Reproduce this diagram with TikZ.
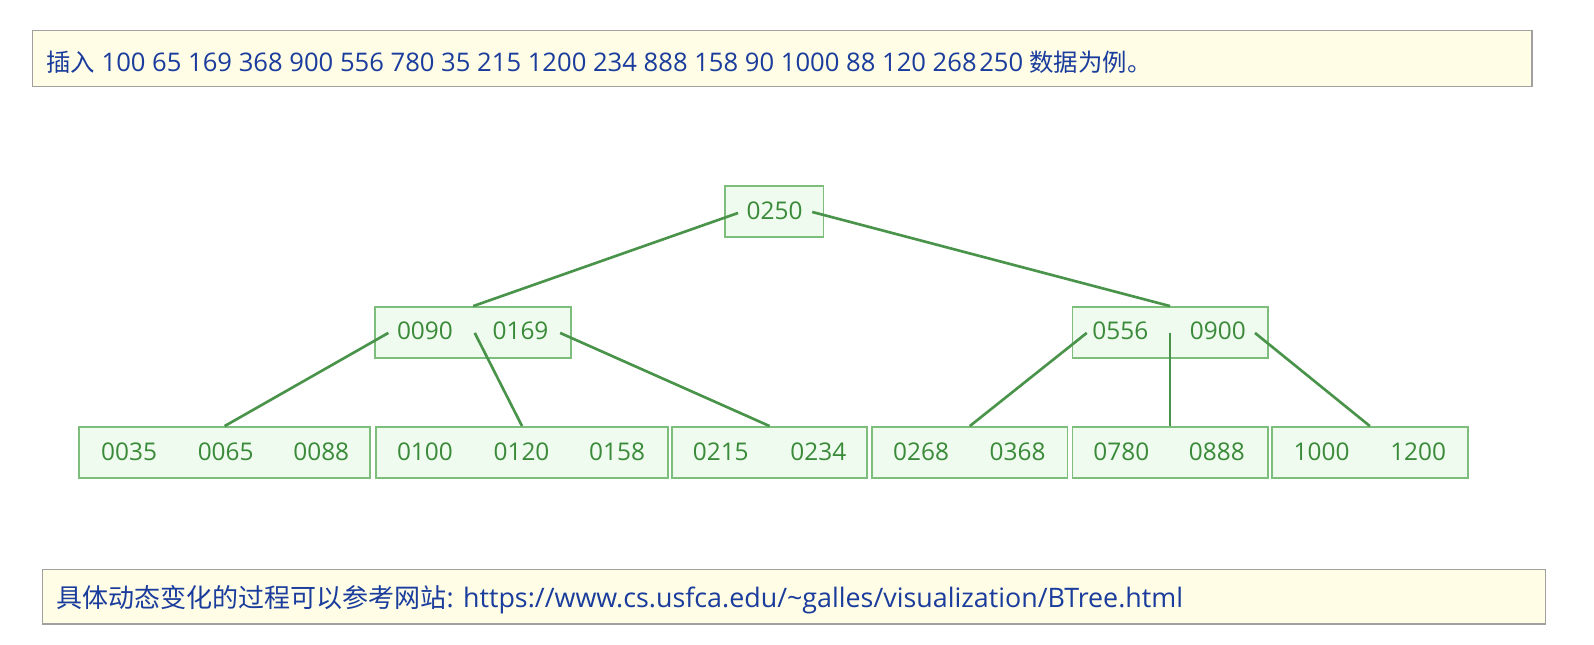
\documentclass[tikz,border=0pt]{standalone}
\usepackage{fontspec}
\setmainfont{Open Sans}
\newfontfamily\cjk{Noto Sans CJK SC}
\newcommand{\hanzi}[2]{{\cjk\fontsize{#1}{#1}\selectfont #2}}
\definecolor{notebg}{HTML}{FFFDE6}
\definecolor{noteline}{HTML}{A0A0A0}
\definecolor{noteblue}{HTML}{1A3C9C}
\definecolor{nodefill}{HTML}{EEFBEE}
\definecolor{nodeline}{HTML}{7DBE7D}
\definecolor{keygreen}{HTML}{3A8A3A}
\definecolor{linkgreen}{HTML}{4A934A}
\tikzstyle{note}=[draw=noteline,fill=notebg,line width=0.7pt]
\tikzstyle{notetext}=[anchor=west,inner sep=0pt,text=noteblue]
\tikzstyle{bnode}=[draw=nodeline,fill=nodefill,line width=0.9pt,minimum height=25pt,inner sep=0pt]
\tikzstyle{key}=[text=keygreen,inner sep=0pt,font=\fontsize{12}{14}\selectfont]
\tikzstyle{link} = [draw,line width=1.3pt,linkgreen]

\begin{document}
\begin{tikzpicture}[x=0.5pt,y=-0.5pt]
    \useasboundingbox (0,0) rectangle (1568,633.5);
    % remarques
    \node[note,minimum width=737.5pt,minimum height=27.5pt] (top) at (769.5,57.5) {};
    \node[notetext,font=\fontsize{12.6}{15}\selectfont] (toptext) at (45,61) {\hanzi{12}{插入} 100 65 169 368 900 556 780 35 215 1200 234 888 158 90 1000 88 120 268\hspace{0.1em}250 \hanzi{12}{数据为例。}};
    \node[note,minimum width=739pt,minimum height=27pt] (bottom) at (781,587) {};
    \node[notetext,font=\fontsize{13.2}{16}\selectfont] (bottomtext) at (55,590) {\hanzi{12.8}{具体动态变化的过程可以参考网站}: https://www.cs.usfca.edu/\textasciitilde galles/visualization/BTree.html};
    % noeuds
    \node[bnode,minimum width=48.5pt] (root) at (761.5,208) {};
    \node[bnode,minimum width=96.5pt] (midL) at (465.5,327) {};
    \node[bnode,minimum width=96pt] (midR) at (1151,327) {};
    \foreach \pos/\name/\w in {{(221,445)/leafA/143pt}, {(513.5,445)/leafB/143.5pt}, {(757,445)/leafC/96pt}, {(954,445)/leafD/96pt}, {(1151,445)/leafE/96pt}, {(1347.5,445)/leafF/96.5pt}}
        \node[bnode,minimum width=\w] (\name) at \pos {};
    % cles
    \foreach \pos/\name in {{(762,207.5)/0250}, {(418,325)/0090}, {(512,325)/0169}, {(1102,325)/0556}, {(1198,325)/0900},
        {(127,444)/0035}, {(222,444)/0065}, {(316,444)/0088}, {(418,444)/0100}, {(513,444)/0120}, {(607,444)/0158},
        {(709,444)/0215}, {(805,444)/0234}, {(906,444)/0268}, {(1001,444)/0368}, {(1103,444)/0780}, {(1197,444)/0888},
        {(1300,444)/1000}, {(1395,444)/1200}}
        \node[key] (k\name) at \pos {\name};
    % pointeurs
    \foreach \pos/\name in {{(726,209.5)/r0}, {(799,208.5)/r1}, {(382,327.5)/a0}, {(467,327.5)/a1}, {(551,327.5)/a2},
        {(1069,327.5)/b0}, {(1151,327.5)/b1}, {(1234.5,327.5)/b2}}
        \node[coordinate] (\name) at \pos {};
    % aretes
    \foreach \src/\dst in {r0/midL,r1/midR,a0/leafA,a1/leafB,a2/leafC,b0/leafD,b1/leafE,b2/leafF}
        \path[link] (\src) -- (\dst.north);
\end{tikzpicture}
\end{document}
